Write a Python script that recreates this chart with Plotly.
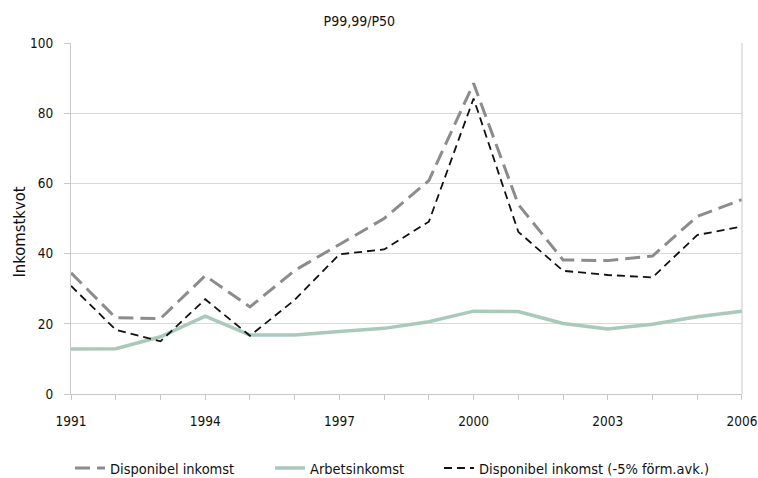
import plotly.graph_objects as go

years = list(range(1991, 2007))

disponibel = [34.5, 21.7, 21.5, 33.7, 24.8, 35.2, 42.6, 50.0, 60.8, 88.5, 54.0, 38.2, 38.0, 39.3, 50.6, 55.4]
arbetsinkomst = [12.8, 12.9, 16.3, 22.2, 16.8, 16.8, 17.8, 18.7, 20.6, 23.6, 23.5, 20.1, 18.5, 19.9, 22.0, 23.6]
disp_formavk = [30.8, 18.3, 15.0, 27.0, 16.6, 26.8, 39.8, 41.2, 49.1, 84.2, 46.2, 35.1, 33.9, 33.2, 45.3, 47.7]

tick_years = [1991, 1994, 1997, 2000, 2003, 2006]

FONT = "DejaVu Sans Condensed"
LEG_FONT = dict(family=FONT, size=14.5, color="#111")

fig = go.Figure()

fig.add_trace(go.Scatter(
    x=years, y=disponibel, mode="lines", name="Disponibel inkomst", legend="legend",
    line=dict(color="#8c8c8c", width=3, dash="15px,7px"),
))
fig.add_trace(go.Scatter(
    x=years, y=arbetsinkomst, mode="lines", name="Arbetsinkomst", legend="legend2",
    line=dict(color="#a9c9bb", width=3.5),
))
fig.add_trace(go.Scatter(
    x=years, y=disp_formavk, mode="lines", name="Disponibel inkomst (-5% förm.avk.)",
    legend="legend3",
    line=dict(color="#111111", width=1.8, dash="8px,5px"),
))

# one legend per entry so the spacing follows the reference
leg = dict(orientation="h", xanchor="left", y=-0.211, yanchor="middle",
           font=LEG_FONT, itemwidth=30, bgcolor="rgba(0,0,0,0)")

fig.update_layout(
    width=758, height=478,
    margin=dict(l=71, r=16, t=43, b=84, autoexpand=False),
    plot_bgcolor="white", paper_bgcolor="white",
    font=dict(family=FONT, size=13.5, color="#111"),
    title=dict(text="P99,99/P50", x=0.474, xanchor="center", y=0.955, yanchor="middle",
               font=dict(family=FONT, size=14, color="#111")),
    showlegend=True,
    legend=dict(leg, x=-0.0015),
    legend2=dict(leg, x=0.2966),
    legend3=dict(leg, x=0.5484),
    xaxis=dict(
        range=[1990.999, 2006.001], tickmode="array", tickvals=tick_years,
        ticktext=[str(y) for y in tick_years],
        showgrid=False, showline=True, linecolor="#c8c8c8", linewidth=1,
        ticks="outside", ticklen=5, tickcolor="#c8c8c8", ticklabelstandoff=10,
        ticklabeloverflow="allow",
        minor=dict(ticks="outside", ticklen=5, tickcolor="#c8c8c8", dtick=1, tick0=1991),
        zeroline=False, automargin=False,
    ),
    yaxis=dict(
        range=[0, 100], dtick=20, showgrid=True, gridcolor="#d9d9d9", gridwidth=1,
        showline=True, linecolor="#c8c8c8", linewidth=1,
        ticks="outside", ticklen=6, tickcolor="#c8c8c8", ticklabelstandoff=8,
        zeroline=False, automargin=False,
    ),
)

# y-axis title
fig.add_annotation(x=-0.076, y=0.46, xref="paper", yref="paper", text="Inkomstkvot",
                   xanchor="center", yanchor="middle",
                   textangle=-90, showarrow=False, font=dict(family=FONT, size=16.5, color="#111"))

# right border line of the plot area
fig.add_shape(type="line", xref="paper", yref="paper", x0=1, x1=1, y0=0, y1=1,
              line=dict(color="#c8c8c8", width=1))

# the page's default body margin would shift the figure by 8px
fig.write_html("out.html", config={"displayModeBar": False},
               post_script="document.body.style.margin='0';")
